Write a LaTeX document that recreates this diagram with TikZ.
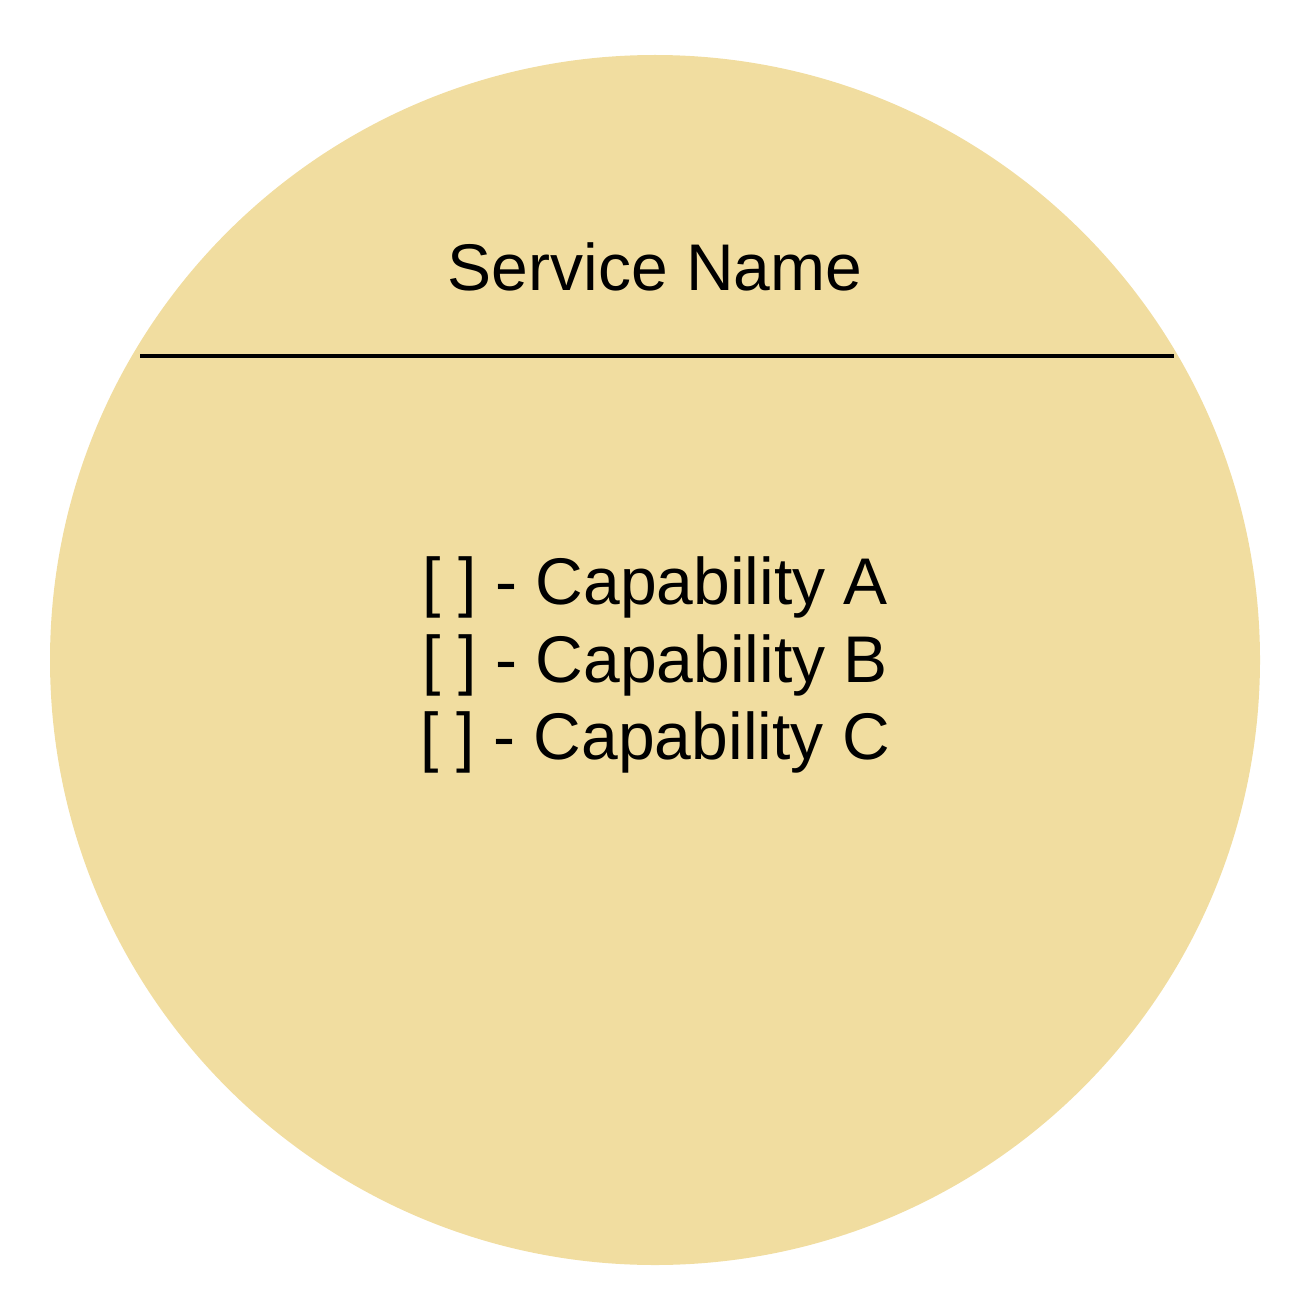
\documentclass[tikz,border=0pt]{standalone}
\usepackage{fontspec}
\setmainfont{Liberation Sans}
\definecolor{svcfill}{HTML}{F1DDA0}
\begin{document}
\begin{tikzpicture}[x=0.5pt,y=-0.5pt,
  lbl/.style={font=\fontsize{33}{38.75}\selectfont, align=center, inner sep=0pt}]
\useasboundingbox (0,0) rectangle (1316,1316);
\fill[svcfill] (655,660) circle[radius=605];
\coordinate (la) at (140,356);
\coordinate (lb) at (1174,356);
\draw[line width=2pt] (la) -- (lb);
\node[lbl] (title) at (655,267) {Service Name};
\node[lbl] (caps) at (655,665) {{[} ] - Capability A\\{[} ] - Capability B\\{[} ] - Capability C};
\end{tikzpicture}
\end{document}
